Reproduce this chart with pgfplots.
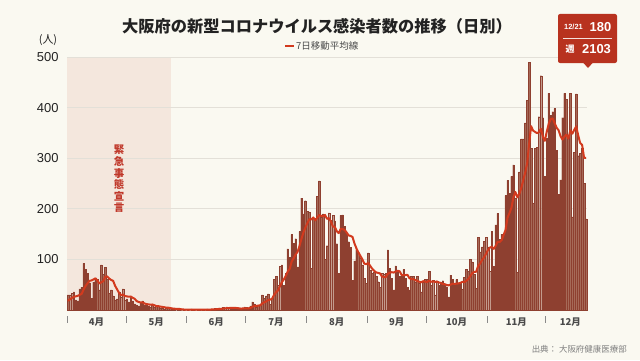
\documentclass[border=0pt]{standalone}
\usepackage{pgfplots}
\pgfplotsset{compat=1.18}
\usepackage{pgfplotstable}
\usepackage{fontspec}
\setmainfont{Noto Sans CJK JP}
\newfontfamily\lib{Liberation Sans}
\definecolor{bg}{HTML}{FAF9F1}
\definecolor{shadecol}{HTML}{F4E7DD}
\definecolor{gridcol}{HTML}{E3E0D8}
\definecolor{barfill}{HTML}{A66A58}
\definecolor{baredge}{HTML}{8E4030}
\definecolor{macol}{HTML}{D23A1E}
\definecolor{callcol}{HTML}{B8321F}
\definecolor{txt}{HTML}{222222}
\definecolor{month}{HTML}{4A4A4A}
\definecolor{sepcol}{HTML}{8A8A8A}
\definecolor{emerg}{HTML}{C0392B}

% daily cases (c) and 7-day moving average (m), 2020-04-01 .. 2020-12-21
\pgfplotstableread[row sep=\\]{
c m\\
30 18\\ 30 21\\ 33 24\\ 36 26\\ 20 27\\ 18 28\\ 42 29.9\\ 45 32.0\\ 92 40.9\\ 80 47.6\\
73 52.9\\ 54 57.7\\ 23 58.4\\ 55 60.3\\ 62 62.7\\ 60 58.1\\ 40 52.4\\ 89 54.7\\ 70 57.0\\ 84 65.7\\
60 66.4\\ 33 62.3\\ 40 59.4\\ 28 57.7\\ 20 47.9\\ 22 41.0\\ 36 34.1\\ 26 29.3\\ 42 30.6\\ 20 27.7\\
22 26.9\\ 16 26.3\\ 25 26.7\\ 18 24.1\\ 12 22.1\\ 10 17.6\\ 8 15.9\\ 15 14.9\\ 18 15.1\\ 10 13.0\\
9 11.7\\ 8 11.1\\ 6 10.6\\ 10 10.9\\ 5 9.4\\ 7 7.9\\ 8 7.6\\ 4 6.9\\ 3 6.1\\ 2 5.6\\
3 4.6\\ 5 4.6\\ 3 4.0\\ 2 3.1\\ 1 2.7\\ 0 2.3\\ 1 2.1\\ 2 2.0\\ 0 1.3\\ 1 1.0\\
0 0.7\\ 1 0.7\\ 0 0.7\\ 2 0.9\\ 1 0.7\\ 0 0.7\\ 1 0.7\\ 1 0.9\\ 0 0.7\\ 1 0.9\\
0 0.6\\ 2 0.7\\ 1 0.9\\ 2 1.0\\ 1 1.0\\ 3 1.4\\ 2 1.6\\ 4 2.1\\ 3 2.3\\ 5 2.9\\
4 3.1\\ 6 3.9\\ 3 3.9\\ 4 4.1\\ 5 4.3\\ 3 4.3\\ 2 3.9\\ 1 3.4\\ 2 2.9\\ 4 3.0\\
6 3.3\\ 5 3.3\\ 4 3.4\\ 8 4.3\\ 16 6.4\\ 12 7.9\\ 6 8.1\\ 10 8.7\\ 9 9.3\\ 30 13.0\\
23 15.1\\ 28 16.9\\ 32 19.7\\ 11 20.4\\ 23 22.3\\ 61 29.7\\ 66 34.9\\ 49 38.6\\ 86 46.9\\ 89 55.0\\
49 60.4\\ 72 67.4\\ 121 76.0\\ 104 81.4\\ 149 95.7\\ 132 102.3\\ 141 109.7\\ 85 114.9\\ 155 126.7\\ 221 141.0\\
190 153.3\\ 216 162.9\\ 195 171.9\\ 194 179.4\\ 83 179.1\\ 181 182.9\\ 181 177.1\\ 225 182.1\\ 255 187.7\\ 183 186.0\\
190 185.4\\ 100 187.9\\ 127 180.1\\ 192 181.7\\ 177 174.9\\ 187 165.1\\ 176 164.1\\ 131 155.7\\ 73 151.9\\ 187 160.4\\
188 159.9\\ 166 158.3\\ 152 153.3\\ 135 147.4\\ 124 146.4\\ 59 144.4\\ 97 131.6\\ 119 121.7\\ 112 114.0\\ 102 106.9\\
89 100.3\\ 63 91.6\\ 53 90.7\\ 113 93.0\\ 79 87.3\\ 72 81.6\\ 74 77.6\\ 67 74.4\\ 56 73.4\\ 45 72.3\\
72 66.4\\ 70 65.1\\ 72 65.1\\ 119 71.6\\ 82 73.7\\ 63 74.7\\ 40 74.0\\ 87 76.1\\ 79 77.4\\ 66 76.6\\
68 69.3\\ 80 69.0\\ 62 68.9\\ 45 69.6\\ 40 62.9\\ 66 61.0\\ 66 61.0\\ 56 59.3\\ 66 57.3\\ 53 56.0\\
36 54.7\\ 56 57.0\\ 60 56.1\\ 60 55.3\\ 76 58.1\\ 49 55.7\\ 59 56.6\\ 30 55.7\\ 58 56.0\\ 49 54.4\\
55 53.7\\ 58 51.1\\ 49 51.1\\ 46 49.3\\ 26 48.7\\ 69 50.3\\ 61 52.0\\ 53 51.7\\ 60 52.0\\ 53 52.6\\
53 53.6\\ 41 55.7\\ 65 55.1\\ 80 57.9\\ 76 61.1\\ 100 66.9\\ 95 72.9\\ 70 75.3\\ 43 75.6\\ 143 86.7\\
115 91.7\\ 125 98.7\\ 136 103.9\\ 143 110.7\\ 125 118.6\\ 76 123.3\\ 155 125.0\\ 86 120.9\\ 168 127.0\\ 191 134.9\\
140 134.4\\ 150 138.0\\ 148 148.3\\ 226 158.4\\ 256 182.7\\ 231 191.7\\ 264 202.1\\ 287 223.1\\ 221 233.3\\ 74 222.7\\
273 229.4\\ 338 241.1\\ 338 256.4\\ 370 271.6\\ 415 289.9\\ 490 328.3\\ 320 363.4\\ 211 354.6\\ 320 352.0\\ 321 349.6\\
382 351.3\\ 463 358.1\\ 380 342.4\\ 264 334.4\\ 339 352.7\\ 428 368.1\\ 385 377.3\\ 392 378.7\\ 398 369.4\\ 316 360.3\\
229 355.3\\ 257 343.6\\ 380 336.7\\ 428 342.9\\ 416 346.3\\ 346 338.9\\ 428 354.9\\ 184 348.4\\ 311 356.1\\ 427 362.9\\
305 345.3\\ 310 330.1\\ 320 326.4\\ 250 301.0\\ 180 300.4\\
}\dailydata

\begin{document}
\begin{tikzpicture}[x=1bp,y=1bp]
\fill[bg] (0,0) rectangle (640,360);
\begin{axis}[
  at={(67bp,50bp)}, anchor=south west,
  scale only axis, width=520bp, height=253bp,
  xmin=-0.5, xmax=264.5, ymin=0, ymax=500,
  clip=false,
  axis line style={draw=none},
  major tick length=0pt,
  ytick={100,200,300,400,500},
  ymajorgrids, grid style={gridcol, line width=0.7bp},
  yticklabel style={font=\lib\fontsize{13}{13}\selectfont, text=txt, anchor=east, xshift=-5bp},
  /pgf/number format/assume math mode=true,
  xtick={14.5,45,75.5,106,137,167.5,198,228.5,256},
  xticklabels={4月,5月,6月,7月,8月,9月,10月,11月,12月},
  xticklabel style={font=\fontsize{9.5}{10}\selectfont\bfseries, text=month, yshift=-4bp},
]
% emergency declaration band
\addplot[fill=shadecol, draw=none, forget plot] coordinates {(-0.5,0) (52.5,0) (52.5,500) (-0.5,500)} -- cycle;
\pgfplotsinvokeforeach{100,200,300,400,500}{
  \draw[gridcol, line width=0.7bp] (axis cs:-0.5,#1) -- (axis cs:52.5,#1);
}
\draw[gridcol, line width=0.8bp] (axis cs:-0.5,0) -- (axis cs:264.5,0);
\addplot[ybar, bar width=1.55bp, fill=barfill, draw=baredge, line width=0.3bp]
  table[x expr=\coordindex, y=c]{\dailydata};
\addplot[macol, line width=2bp, line join=round, mark=none]
  table[x expr=\coordindex, y=m]{\dailydata};
\end{axis}
% month separators
\foreach \s in {67,125.9,186.7,245.6,306.4,367.2,426.1,486.9,545.8}
  \draw[sepcol, line width=0.8bp] (\s,44) -- (\s,37);
% emergency text
\node[font=\fontsize{10.5}{11.6}\selectfont\bfseries, text=emerg, align=center] at (119,181)
  {緊\\急\\事\\態\\宣\\言};
% title
\node[font=\fontsize{16.3}{17}\selectfont\bfseries, text=txt] at (317,334)
  {大阪府の新型コロナウイルス感染者数の推移（日別）};
% legend
\draw[macol, line width=2.4bp] (285,314) -- (294,314);
\node[anchor=west, font=\fontsize{9.5}{10}\selectfont, text=month, inner sep=1bp] at (295,314) {7日移動平均線};
% unit
\node[font=\fontsize{11}{11}\selectfont, text=txt] at (48,320) {(人)};
% callout
\fill[callcol, rounded corners=2bp] (558,297) rectangle (617,346);
\fill[callcol] (583,297.5) -- (593,297.5) -- (588,292) -- cycle;
\draw[white!85!callcol, line width=0.6bp] (563,321.7) -- (612,321.7);
\node[font=\lib\fontsize{7.5}{8}\selectfont\bfseries, text=white] at (573.5,333.3) {12/21};
\node[font=\lib\fontsize{13}{13}\selectfont\bfseries, text=white] at (600.5,333.3) {180};
\node[font=\fontsize{9}{9}\selectfont\bfseries, text=white] at (570,310.7) {週};
\node[font=\lib\fontsize{13}{13}\selectfont\bfseries, text=white] at (596.5,310.7) {2103};
% source
\node[anchor=east, font=\fontsize{8.5}{9}\selectfont, text=black!50, inner sep=0pt] at (627,11)
  {出典： 大阪府健康医療部};
\pgfresetboundingbox
\path[use as bounding box] (0,0) rectangle (640,360);
\end{tikzpicture}
\end{document}
